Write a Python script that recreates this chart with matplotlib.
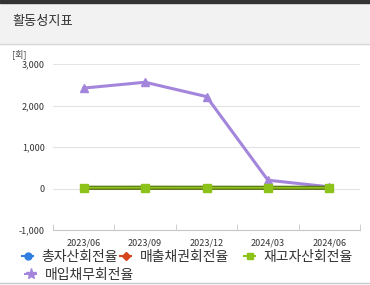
import numpy as np
import matplotlib.pyplot as plt
from matplotlib.lines import Line2D

plt.rcParams['font.family'] = ['Noto Sans CJK KR', 'DejaVu Sans']

# quarters on the x axis
periods = ['2023/06', '2023/09', '2023/12', '2024/03', '2024/06']

# turnover ratios (times)
total_asset = [0.9, 0.9, 0.9, 0.8, 0.8]
receivables = [5.0, 5.2, 5.1, 4.8, 4.9]
inventory = [18, 19, 18, 17, 17]
payables = [2420, 2560, 2215, 200, 40]

names = ['총자산회전율', '매출채권회전율', '재고자산회전율', '매입채무회전율']
colors = ['#2f7ee0', '#d6461c', '#8cc21a', '#a386dc']
markers = ['o', 'D', 's', '*']
msizes = [5, 4, 5, 8]

W, H = 370, 285
fig = plt.figure(figsize=(3.7, 2.85), dpi=100)

def fy(px):
    return 1 - px / H

# header band
fig.patches.append(plt.Rectangle((0, fy(44)), 1, 44 / H, transform=fig.transFigure,
                                 color='#f2f2f2', zorder=0))
fig.patches.append(plt.Rectangle((0, fy(3)), 1, 3 / H, transform=fig.transFigure,
                                 color='#333333', zorder=1))
fig.add_artist(Line2D([0, 1], [fy(44), fy(44)], transform=fig.transFigure,
                      color='#d8d8d8', lw=1))
fig.add_artist(Line2D([0, 1], [fy(283), fy(283)], transform=fig.transFigure,
                      color='#c8c8c8', lw=1))
fig.text(12 / W, fy(21), '활동성지표', fontsize=9.5, color='#333333', va='center')
fig.text(12 / W, fy(54), '[회]', fontsize=6.5, color='#444444', va='center')

ax = fig.add_axes([53 / W, fy(230), 307 / W, 166 / H])
x = np.arange(len(periods))

ax.plot(x, payables, color=colors[3], lw=2.2, marker='^', ms=6, zorder=3)
ax.plot(x, total_asset, color=colors[0], lw=2, marker='o', ms=5, zorder=4)
ax.plot(x, receivables, color=colors[1], lw=2, marker='D', ms=4, zorder=5)
ax.plot(x, inventory, color='#5d7a1a', lw=3, zorder=6)
ax.plot(x, inventory, color=colors[2], lw=1.2, marker='s', ms=6, zorder=7)

ax.set_xlim(-0.5, len(periods) - 0.5)
ax.set_ylim(-1000, 3000)
ax.set_yticks([-1000, 0, 1000, 2000, 3000])
ax.set_yticklabels(['-1,000', '0', '1,000', '2,000', '3,000'])
ax.set_xticks(x)
ax.set_xticklabels(periods)
ax.set_xticks(np.arange(-0.5, len(periods)), minor=True)
ax.tick_params(axis='x', which='major', length=0, labelsize=6.5, colors='#333333', pad=6)
ax.tick_params(axis='x', which='minor', length=4, color='#c8c8c8', direction='in')
ax.tick_params(axis='y', length=0, labelsize=6.5, colors='#333333', pad=6)
ax.grid(axis='y', color='#e3e3e3', lw=0.8)
ax.set_axisbelow(True)
for s in ['top', 'right', 'left']:
    ax.spines[s].set_visible(False)
ax.spines['bottom'].set_color('#c8c8c8')

# legend entries placed one by one (two rows, like the original)
spots = [(22, 257), (120, 257), (244, 257), (25, 275)]
for i in range(4):
    h = Line2D([], [], color=colors[i], marker=markers[i], ms=msizes[i], lw=1.5)
    fig.legend([h], [names[i]], loc='center left',
               bbox_to_anchor=(spots[i][0] / W, fy(spots[i][1])),
               frameon=False, fontsize=10, handlelength=0.8, handletextpad=0.6,
               borderaxespad=0, borderpad=0, labelcolor='#333333')

fig.savefig('out.png', dpi=100)
